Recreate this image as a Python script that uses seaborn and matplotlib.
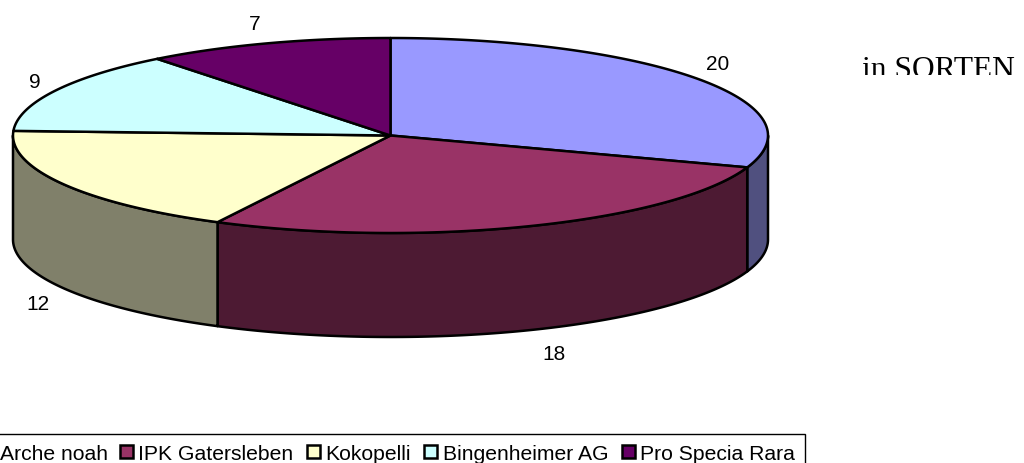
import numpy as np
import seaborn as sns
import matplotlib.pyplot as plt
from matplotlib.patches import Polygon, Rectangle

# data
names = ['Arche noah', 'IPK Gatersleben', 'Kokopelli', 'Bingenheimer AG', 'Pro Specia Rara']
values = [20, 18, 12, 9, 7]
top_colors = ['#9999FF', '#993366', '#FFFFCC', '#CCFFFF', '#660066']
side_colors = ['#50507F', '#4D1A33', '#80806A', '#66807F', '#330033']
note = 'in SORTEN'

# pie geometry in pixels
cx, cy, rx, ry, depth = 390.5, 136.5, 377.5, 97.5, 104

sns.set_theme(style='white')
plt.rcParams['font.family'] = ['Liberation Sans', 'DejaVu Sans']

fig = plt.figure(figsize=(10.24, 4.64), dpi=100)
ax = fig.add_axes([0, 0, 1, 1])
ax.set_xlim(0, 1024)
ax.set_ylim(464, 0)
ax.axis('off')


def rim(a, b):
    t = np.radians(np.linspace(a, b, 200))
    return cx + rx * np.cos(t), cy - ry * np.sin(t)


# slice angles, clockwise from the top
shares = np.array(values) / sum(values) * 360
ends = 90 - np.cumsum(shares)
starts = ends + shares

# walls first, only the part of the rim on the front side
for a, b, side in zip(starts, ends, side_colors):
    for shift in [0, 360]:
        lo, hi = max(b + shift, -180), min(a + shift, 0)
        if hi <= lo:
            continue
        x, y = rim(hi, lo)
        pts = np.r_[np.c_[x, y], np.c_[x[::-1], y[::-1] + depth]]
        ax.add_patch(Polygon(pts, closed=True, fc=side, ec='black', lw=1.8, joinstyle='round'))

# top faces
for a, b, top in zip(starts, ends, top_colors):
    x, y = rim(a, b)
    pts = np.r_[[[cx, cy]], np.c_[x, y]]
    ax.add_patch(Polygon(pts, closed=True, fc=top, ec='black', lw=1.8, joinstyle='round'))

# value labels
label_pos = [(718, 65), (554, 354.5), (38, 304.5), (35, 83), (255, 24.5)]
for v, (lx, ly) in zip(values, label_pos):
    ax.text(lx, ly, str(v), fontsize=15, color='black', ha='center', va='center')

# note, bottom of it is cut off in the original
clip = Rectangle((850, 40), 174, 35.5, transform=ax.transData)
t = ax.text(862, 78.5, note, fontsize=22.7, family=['Liberation Serif', 'DejaVu Serif'],
            color='black', ha='left', va='baseline')
t.set_clip_on(True)
t.set_clip_path(clip)

# legend box runs off the left and bottom edge
ax.add_patch(Rectangle((-5, 435), 810, 40, fc='white', ec='black', lw=1))
text_x = [0, 138, 325, 443, 640]
box_x = [None, 119.5, 306.5, 423.5, 621.5]
for name, c, tx, bx in zip(names, top_colors, text_x, box_x):
    ax.text(tx, 460, name, fontsize=15.2, color='black', ha='left', va='baseline')
    if bx is not None:
        ax.add_patch(Rectangle((bx, 446), 13, 13, fc=c, ec='black', lw=1.8))

fig.savefig('out.png', dpi=100)
